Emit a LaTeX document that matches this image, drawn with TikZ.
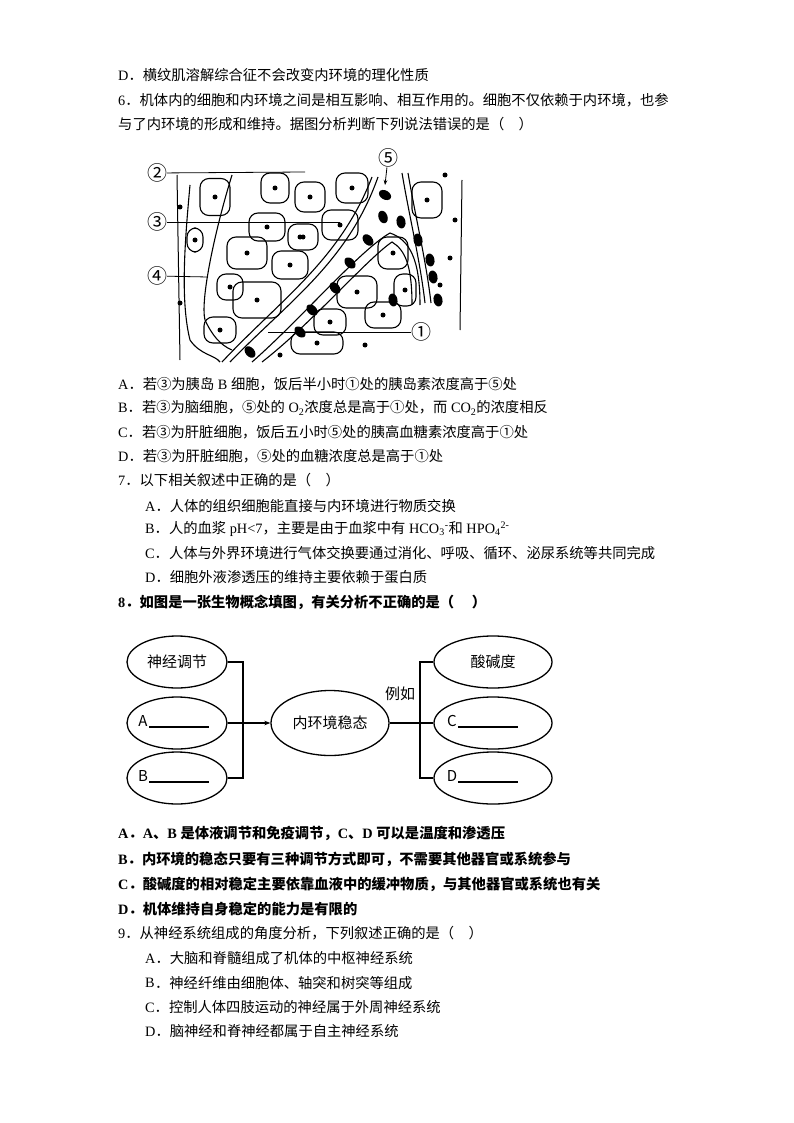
\documentclass[tikz,border=0pt]{standalone}
\usepackage{fontspec}
\setmainfont{Noto Sans CJK SC}
\newfontfamily\lat{Liberation Serif}
\newcommand\opt[1]{{\lat #1}．}
\usetikzlibrary{shapes.geometric,arrows.meta}
\tikzset{
 ln/.style={anchor=west,inner sep=0pt,font=\fontsize{14.3}{16}\selectfont},
 bl/.style={ln,font=\fontsize{14.3}{16}\selectfont\bfseries},
 cell/.style={draw,line width=1.1pt,rounded corners=9pt},
 nuc/.style={fill=black,circle,inner sep=0pt,minimum size=5pt},
 rbc/.style={fill=black,ellipse,inner sep=0pt,minimum width=9pt,minimum height=13pt},
 ov/.style={draw,ellipse,line width=1.3pt,minimum width=100pt,minimum height=52pt,font=\fontsize{15}{17}\selectfont},
 br/.style={line width=1.3pt},
 ul/.style={line width=1.7pt},
 lbl/.style={inner sep=0pt,font=\fontsize{20}{22}\selectfont}
}
\begin{document}
\begin{tikzpicture}[x=1pt,y=-1pt]
\useasboundingbox (0,0) rectangle (793,1123);
\node[ln] (t1) at (118,75) {\opt{D}横纹肌溶解综合征不会改变内环境的理化性质};
\node[ln] (t2) at (118,100) {\opt{6}机体内的细胞和内环境之间是相互影响、相互作用的。细胞不仅依赖于内环境，也参};
\node[ln] (t3) at (118,124) {与了内环境的形成和维持。据图分析判断下列说法错误的是（\quad）};
% cell diagram
\begin{scope}
\foreach \x/\y/\w/\h in {215/197/30/37, 275/188/28/30, 310/197/30/30, 352/188/32/30, 267/227/36/28, 303/237/30/26, 340/225/36/30, 247/253/40/32, 290/265/36/28, 230/287/26/26, 257/300/48/36, 220/330/32/26, 393/253/30/32, 357/292/40/32, 405/290/22/32, 383/315/36/26, 330/322/32/26, 317/343/52/22, 427/200/30/36, 195/240/16/24}
 {\node[cell,minimum width=\w pt,minimum height=\h pt] at (\x,\y) {};
  \node[nuc] at (\x,\y) {};}
\draw[line width=1.1pt] (222,362) .. controls (280,300) and (340,260) .. (372,177);
\draw[line width=1.1pt] (230,362) .. controls (288,302) and (348,262) .. (378,177);
\draw[line width=1.1pt] (252,362) .. controls (300,320) and (360,250) .. (390,233) .. controls (410,240) and (420,260) .. (420,305);
\draw[line width=1.1pt] (262,362) .. controls (310,325) and (368,258) .. (392,242) .. controls (405,250) and (412,265) .. (412,305);
\draw[line width=1.1pt] (402,173) .. controls (410,220) and (420,260) .. (425,303);
\draw[line width=1.1pt] (408,173) .. controls (416,220) and (426,260) .. (431,303);
\draw[line width=1.1pt] (190,185) .. controls (185,240) and (180,300) .. (190,340) .. controls (200,355) and (215,355) .. (220,362);
\draw[line width=1.1pt] (232,175) .. controls (215,230) and (200,300) .. (205,320) .. controls (212,335) and (220,345) .. (232,350);
\draw[line width=1pt] (177,175) -- (180,360) (462,180) -- (460,330);
\foreach \x/\y/\r in {385/195/60, 383/217/20, 368/240/40, 350/263/45, 335/288/40, 312/310/45, 300/332/45, 250/352/40, 401/222/10, 418/240/10, 430/260/10, 433/277/10, 438/300/10, 393/300/10}
 \node[rbc,rotate=\r] at (\x,\y) {};
\foreach \x/\y in {180/207, 180/303, 300/237, 455/220, 450/258, 440/285, 365/345, 280/355, 445/175}
 \node[nuc] at (\x,\y) {};
\node[lbl] (c2) at (157,173) {②};
\node[lbl] (c3) at (157,222) {③};
\node[lbl] (c4) at (157,276) {④};
\node[lbl] (c5) at (388,158) {⑤};
\node[lbl] (c1) at (421,332) {①};
\coordinate (e2) at (305,172); \coordinate (e3) at (340,222);
\coordinate (e4) at (208,277); \coordinate (e5) at (385,185); \coordinate (e1) at (268,332);
\draw[line width=0.8pt] (c2) -- (e2); \draw[line width=0.8pt] (c3) -- (e3);
\draw[line width=0.8pt] (c4) -- (e4); \draw[line width=0.8pt] (c1) -- (e1);
\draw[line width=0.8pt,-{Stealth[length=5pt]}] (c5) -- (e5);
\end{scope}
\node[ln] (a6) at (118,384) {\opt{A}若③为胰岛{\lat\ B }细胞，饭后半小时①处的胰岛素浓度高于⑤处};
\node[ln] (b6) at (118,408) {\opt{B}若③为脑细胞，⑤处的{\lat\ O\textsubscript{2}}浓度总是高于①处，而{\lat\ CO\textsubscript{2}}的浓度相反};
\node[ln] (c6) at (118,432) {\opt{C}若③为肝脏细胞，饭后五小时⑤处的胰高血糖素浓度高于①处};
\node[ln] (d6) at (118,456) {\opt{D}若③为肝脏细胞，⑤处的血糖浓度总是高于①处};
\node[ln] (q7) at (118,480) {\opt{7}以下相关叙述中正确的是（\quad）};
\node[ln] (a7) at (145,506) {\opt{A}人体的组织细胞能直接与内环境进行物质交换};
\node[ln] (b7) at (145,529) {\opt{B}人的血浆{\lat\ pH<7}，主要是由于血浆中有{\lat\ HCO\textsubscript{3}\textsuperscript{-}}和{\lat\ HPO\textsubscript{4}\textsuperscript{2-}}};
\node[ln] (c7) at (145,553) {\opt{C}人体与外界环境进行气体交换要通过消化、呼吸、循环、泌尿系统等共同完成};
\node[ln] (d7) at (145,577) {\opt{D}细胞外液渗透压的维持主要依赖于蛋白质};
\node[bl] (q8) at (118,602) {\opt{\bfseries 8}如图是一张生物概念填图，有关分析不正确的是（\quad\ ）};
% concept map
\node[ov] (n1) at (177,662) {神经调节};
\node[ov] (na) at (177,723) {};
\node[ov] (nb) at (177,778) {};
\node[ov,minimum width=118pt,minimum height=65pt] (nc) at (330,723) {内环境稳态};
\node[ov,minimum width=118pt] (r1) at (493,662) {酸碱度};
\node[ov,minimum width=118pt] (rc) at (493,723) {};
\node[ov,minimum width=118pt] (rd) at (493,778) {};
\node[font=\fontsize{15}{17}\selectfont,inner sep=0pt] (la) at (143,721) {A};
\node[font=\fontsize{15}{17}\selectfont,inner sep=0pt] (lb) at (143,776) {B};
\node[font=\fontsize{15}{17}\selectfont,inner sep=0pt] (lc) at (452,721) {C};
\node[font=\fontsize{15}{17}\selectfont,inner sep=0pt] (ld) at (452,776) {D};
\draw[ul] (la.south east) ++(1,0) -- ++(60,0);
\draw[ul] (lb.south east) ++(1,0) -- ++(60,0);
\draw[ul] (lc.south east) ++(1,0) -- ++(60,0);
\draw[ul] (ld.south east) ++(1,0) -- ++(60,0);
\node[font=\fontsize{15}{17}\selectfont,inner sep=0pt] (ex) at (400,694) {例如};
\coordinate (bl1) at (243,662); \coordinate (bl3) at (243,778); \coordinate (blm) at (243,723);
\draw[br] (n1.east) -- (bl1) -- (bl3) -- (nb.east);
\draw[br] (na.east) -- (blm);
\draw[br,-{Stealth[length=6pt]}] (blm) -- (nc.west);
\coordinate (br1) at (420,662); \coordinate (br3) at (420,778); \coordinate (brm) at (420,723);
\draw[br] (r1.west) -- (br1) -- (br3) -- (rd.west);
\draw[br] (nc.east) -- (rc.west);
\node[bl] (a8) at (118,833) {\opt{\bfseries A}{\lat\bfseries A}、{\lat\bfseries B\ }是体液调节和免疫调节，{\lat\bfseries C}、{\lat\bfseries D\ }可以是温度和渗透压};
\node[bl] (b8) at (118,859) {\opt{\bfseries B}内环境的稳态只要有三种调节方式即可，不需要其他器官或系统参与};
\node[bl] (c8) at (118,884) {\opt{\bfseries C}酸碱度的相对稳定主要依靠血液中的缓冲物质，与其他器官或系统也有关};
\node[bl] (d8) at (118,909) {\opt{\bfseries D}机体维持自身稳定的能力是有限的};
\node[ln] (q9) at (118,933) {\opt{9}从神经系统组成的角度分析，下列叙述正确的是（\quad）};
\node[ln] (a9) at (145,958) {\opt{A}大脑和脊髓组成了机体的中枢神经系统};
\node[ln] (b9l) at (145,983) {\lat B};
\node[ln] (b9) at (b9l.east) {．神经纤维由细胞体、轴突和树突等组成};
\node[ln] (c9) at (145,1007) {\opt{C}控制人体四肢运动的神经属于外周神经系统};
\node[ln] (d9) at (145,1031) {\opt{D}脑神经和脊神经都属于自主神经系统};
\end{tikzpicture}
\end{document}
